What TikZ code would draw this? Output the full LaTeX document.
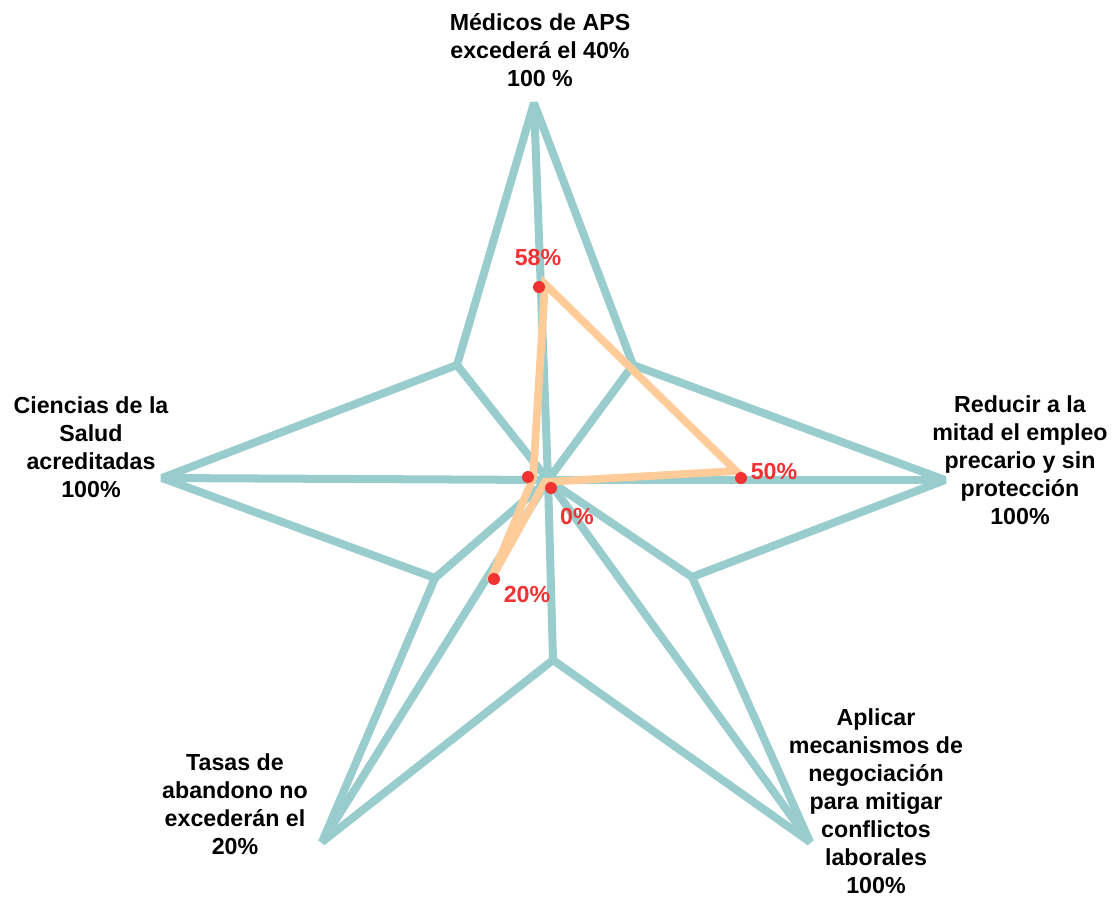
\documentclass[tikz,border=0pt]{standalone}
\usepackage{fontspec}
\setmainfont{Liberation Sans}
\definecolor{starteal}{RGB}{153,204,204}
\definecolor{scoreorange}{RGB}{255,204,153}
\definecolor{scorered}{RGB}{240,50,50}
\begin{document}
\begin{tikzpicture}[x=0.025cm,y=-0.025cm,
    every node/.style={font=\fontsize{16.5}{19.9}\selectfont\bfseries,align=center,inner sep=0pt},
    starline/.style={draw=starteal,line width=5.7pt,line join=bevel},
    scoreline/.style={draw=scoreorange,line width=5.5pt},
    dot/.style={circle,fill=scorered,minimum size=0.3cm},
    pct/.style={text=scorered}]
  \useasboundingbox (0,0) rectangle (1112,897);
  % star vertices, outer and inner
  \path
    (548,480) coordinate (c)
    (534,103) coordinate (o1)
    (633,365) coordinate (i1)
    (945,480) coordinate (o2)
    (692,577) coordinate (i2)
    (810,842) coordinate (o3)
    (553,660) coordinate (i3)
    (322,842) coordinate (o4)
    (435,578) coordinate (i4)
    (162,478) coordinate (o5)
    (457,365) coordinate (i5);
  \begin{scope}[starline]
    \draw (o1) -- (i1) -- (o2) -- (i2) -- (o3) -- (i3) -- (o4) -- (i4) -- (o5) -- (i5) -- cycle;
    \draw (c) to (o1);
    \draw (c) to (i1);
    \draw (c) to (o2);
    \draw (c) to (i2);
    \draw (c) to (o3);
    \draw (c) to (i3);
    \draw (c) to (o4);
    \draw (c) to (i4);
    \draw (c) to (o5);
    \draw (c) to (i5);
  \end{scope}
  % scores
  \path
    (545,284) coordinate (s1)
    (736,471) coordinate (s2)
    (545,482) coordinate (s3)
    (490,581) coordinate (s4)
    (533,478) coordinate (s5);
  \draw[scoreline] (s1) -- (s2) -- (s3) -- (s4) -- (s5) -- cycle;
  \node[dot] (d58) at (539,287) {};
  \node[dot] (d50) at (741,478) {};
  \node[dot] (d0) at (551,488) {};
  \node[dot] (d20) at (494,579) {};
  \node[dot] (dsalud) at (528,477) {};
  \node[pct] (p58) at (538,258) {58\%};
  \node[pct] (p50) at (774,472) {50\%};
  \node[pct] (p0) at (577,517) {0\%};
  \node[pct] (p20) at (527,595) {20\%};
  % axis labels
  \draw
    (540,50) node (aps){Médicos de APS\\excederá el 40\%\\100 \%}
    (1020,460) node (empleo){Reducir a la\\mitad el empleo\\precario y sin\\protección\\100\%}
    (876,801) node (conflictos){Aplicar\\mecanismos de\\negociación\\para mitigar\\conflictos\\laborales\\100\%}
    (235,804) node (abandono){Tasas de\\abandono no\\excederán el\\20\%}
    (91,447) node (salud){Ciencias de la\\Salud\\acreditadas\\100\%};
\end{tikzpicture}
\end{document}
